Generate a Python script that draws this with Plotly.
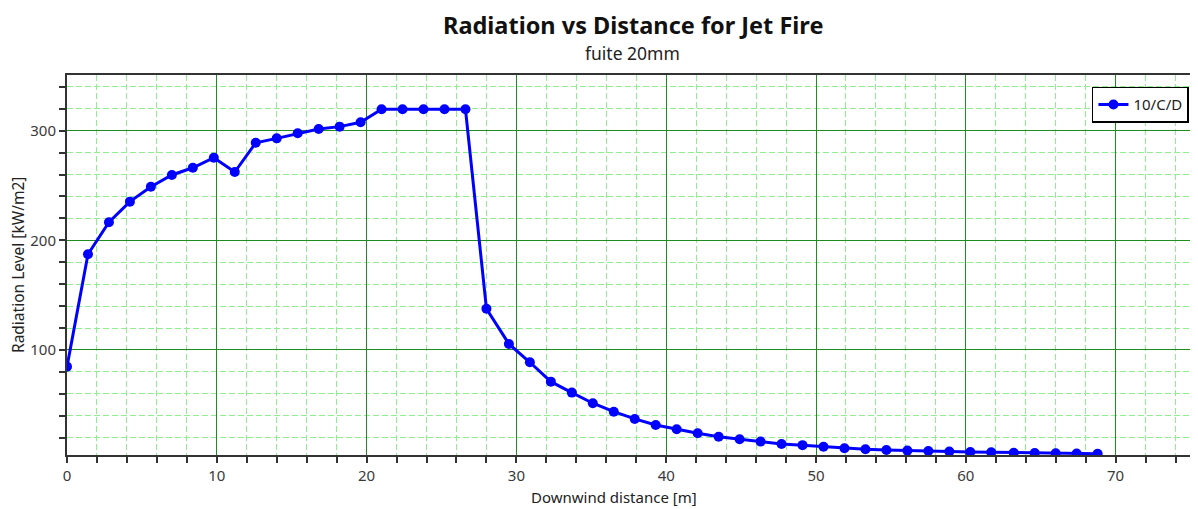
import plotly.graph_objects as go

distance = [0.0, 1.4, 2.8, 4.2, 5.6, 7.0, 8.4, 9.8, 11.2, 12.6,
            14.0, 15.4, 16.8, 18.2, 19.6, 21.0, 22.4, 23.8, 25.2, 26.6,
            28.0, 29.5, 30.9, 32.3, 33.7, 35.1, 36.5, 37.9, 39.3, 40.7,
            42.1, 43.5, 44.9, 46.3, 47.7, 49.1, 50.5, 51.9, 53.3, 54.7,
            56.1, 57.5, 58.9, 60.3, 61.7, 63.2, 64.6, 66.0, 67.4, 68.8]
radiation = [84.8, 187.3, 216.5, 235.3, 248.9, 259.6, 266.2, 275.4, 262.3, 289.0,
             293.0, 297.6, 301.5, 303.7, 307.7, 319.5, 319.5, 319.5, 319.5, 319.5,
             137.6, 105.5, 88.8, 71.1, 61.1, 51.4, 43.7, 37.1, 31.6, 27.7,
             24.0, 20.9, 18.6, 16.4, 14.3, 13.2, 11.8, 10.3, 9.4, 8.8,
             8.2, 7.9, 7.3, 7.0, 6.7, 6.3, 6.1, 5.8, 5.6, 5.4]
series_name = "10/C/D"
title_text = "Radiation vs Distance for Jet Fire"
subtitle_text = "fuite 20mm"
x_title = "Downwind distance [m]"
y_title = "Radiation Level [kW/m2]"

FONT = "Noto Sans"
MAJOR = "#1e8c1e"
MINOR = "#90ee90"
TICKFONT = dict(family=FONT, size=15, color="#3a3a3a")

fig = go.Figure()
fig.add_trace(go.Scatter(
    x=distance, y=radiation, mode="lines+markers", name=series_name,
    line=dict(color="#0000ff", width=3),
    marker=dict(color="#0000ff", size=10),
))

# page body has an 8px default margin, so the figure is 8px smaller / offset
fig.update_layout(
    width=1190, height=501,
    margin=dict(l=59, r=0, t=67, b=54, autoexpand=False),
    paper_bgcolor="white", plot_bgcolor="white",
    showlegend=True,
    legend=dict(x=0.992, y=0.969, xanchor="right", yanchor="top",
                bgcolor="white", bordercolor="black", borderwidth=1.5,
                font=dict(family=FONT, size=15, color="#222"),
                itemwidth=30),
    xaxis=dict(
        range=[0, 75.5], tick0=0, dtick=10, showgrid=True, gridcolor=MAJOR, gridwidth=1.2,
        zeroline=False, showline=True, linecolor="#333", linewidth=2, mirror=True,
        ticks="outside", ticklen=6, tickcolor="#333", tickwidth=1.5,
        tickfont=TICKFONT, automargin=False,
        minor=dict(tick0=0, dtick=2, showgrid=True, gridcolor=MINOR, griddash="6px,3px",
                   gridwidth=1, ticks="outside", ticklen=6, tickcolor="#333", tickwidth=1.5),
    ),
    yaxis=dict(
        range=[4.2, 350.8], tick0=0, dtick=100, showgrid=True, gridcolor=MAJOR, gridwidth=1.2,
        zeroline=False, showline=True, linecolor="#333", linewidth=2,
        ticks="outside", ticklen=6, tickcolor="#333", tickwidth=1.5,
        tickfont=TICKFONT, automargin=False,
        minor=dict(tick0=0, dtick=20, showgrid=True, gridcolor=MINOR, griddash="6px,3px",
                   gridwidth=1, ticks="outside", ticklen=6, tickcolor="#333", tickwidth=1.5),
    ),
    annotations=[
        dict(text="<b>" + title_text + "</b>", xref="paper", yref="paper",
             x=0.5, y=1, yshift=50, xanchor="center", yanchor="middle", showarrow=False,
             font=dict(family=FONT, size=23.5, color="#111")),
        dict(text=subtitle_text, xref="paper", yref="paper",
             x=0.5, y=1, yshift=22, xanchor="center", yanchor="middle", showarrow=False,
             font=dict(family=FONT, size=17.5, color="#222")),
        dict(text=x_title, xref="paper", yref="paper",
             x=0.4836, y=0, yshift=-42, xanchor="center", yanchor="middle", showarrow=False,
             font=dict(family=FONT, size=15, color="#222")),
        dict(text=y_title, xref="paper", yref="paper", textangle=-90,
             x=0, y=0.5, xshift=-49, xanchor="center", yanchor="middle", showarrow=False,
             font=dict(family=FONT, size=15.5, color="#222")),
    ],
)

fig.write_html("out.html")
